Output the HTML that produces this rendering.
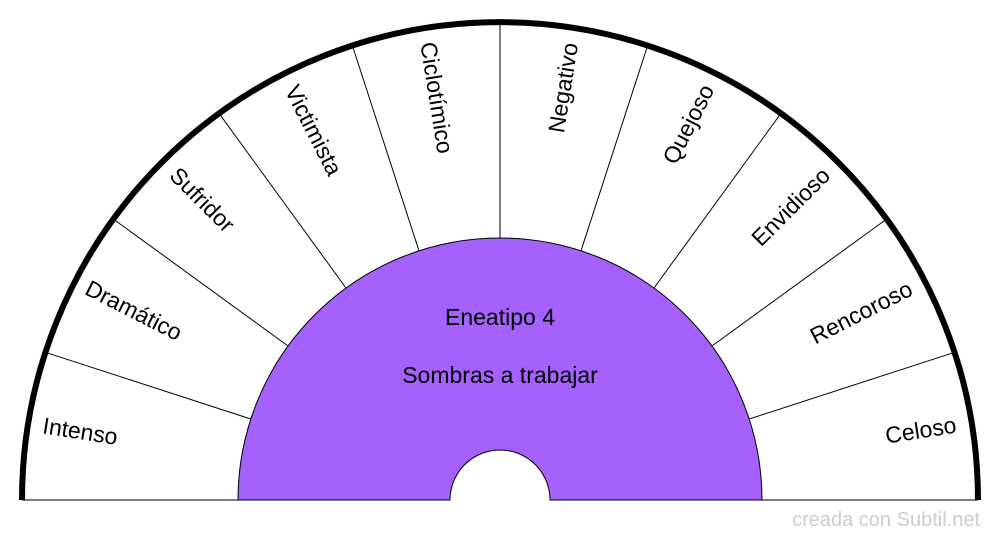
<!DOCTYPE html>
<html><head><meta charset="utf-8"><style>
html,body{margin:0;padding:0;background:#fff;}
svg{display:block;font-family:"Liberation Sans",sans-serif;}
</style></head><body>
<svg width="1000" height="540" viewBox="0 0 1000 540" xmlns="http://www.w3.org/2000/svg">
<rect width="1000" height="540" fill="#fff"/>
<g stroke="#000" stroke-width="1">
<line x1="22" y1="500" x2="238" y2="500"/>
<line x1="762" y1="500" x2="978" y2="500"/>
<line x1="45.4" y1="352.3" x2="250.8" y2="419"/>
<line x1="113.3" y1="219" x2="288" y2="346"/>
<line x1="219" y1="113.3" x2="346" y2="288"/>
<line x1="352.3" y1="45.4" x2="419" y2="250.8"/>
<line x1="500" y1="22" x2="500" y2="238"/>
<line x1="647.7" y1="45.4" x2="581" y2="250.8"/>
<line x1="781" y1="113.3" x2="654" y2="288"/>
<line x1="886.7" y1="219" x2="712" y2="346"/>
<line x1="954.6" y1="352.3" x2="749.2" y2="419"/>
</g>
<path d="M238 500 A262 262 0 0 1 762 500 L550 500 A50 50 0 0 0 450 500 Z" fill="#a461fb" stroke="#000" stroke-width="1"/>
<path d="M22 500 A478 478 0 0 1 978 500" fill="none" stroke="#000" stroke-width="6"/>
<g font-size="23" fill="#000" text-anchor="middle" dominant-baseline="middle">
<text x="500" y="319">Eneatipo 4</text>
<text x="500" y="377">Sombras a trabajar</text>
<text transform="translate(80,433) rotate(9)">Intenso</text>
<text transform="translate(133,312) rotate(27)">Dramático</text>
<text transform="translate(201,201) rotate(45)">Sufridor</text>
<text transform="translate(312,131) rotate(63)">Victimista</text>
<text transform="translate(435,98) rotate(81)">Ciclotímico</text>
<text transform="translate(565,88) rotate(-81)">Negativo</text>
<text transform="translate(690,125) rotate(-63)">Quejoso</text>
<text transform="translate(792,208) rotate(-45)">Envidioso</text>
<text transform="translate(862,314) rotate(-27)">Rencoroso</text>
<text transform="translate(921,432) rotate(-9)">Celoso</text>
</g>
<text x="980" y="526" font-size="20" fill="#ccc" text-anchor="end">creada con Subtil.net</text>
</svg>
</body></html>
